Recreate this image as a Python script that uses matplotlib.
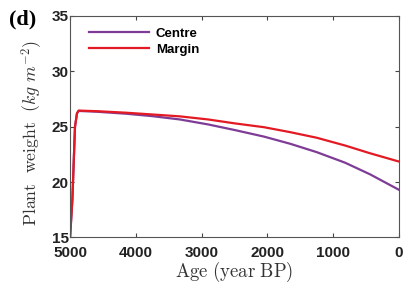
import numpy as np
import matplotlib.pyplot as plt

plt.rcParams['mathtext.fontset'] = 'cm'

age = [5000, 4965, 4925, 4895, 4870, 4600, 4150, 3750, 3330, 2900, 2500, 2050, 1650, 1250, 820, 440, 0]
centre = [15, 18.4, 25, 26.2, 26.42, 26.35, 26.17, 25.95, 25.65, 25.2, 24.7, 24.1, 23.45, 22.7, 21.75, 20.7, 19.3]
margin = [15, 18.4, 25, 26.2, 26.45, 26.4, 26.26, 26.1, 25.93, 25.65, 25.3, 24.95, 24.5, 24.0, 23.3, 22.6, 21.85]

fig = plt.figure(figsize=(4.05, 2.84), dpi=100)
ax = fig.add_axes([0.173, 0.164, 0.812, 0.78])

ax.plot(age, centre, color='#7E3C96', lw=1.6, label='Centre')
ax.plot(age, margin, color='#E31A23', lw=1.6, label='Margin')

ax.set_xlim(5000, 0)
ax.set_ylim(15, 35)
ax.set_xticks([5000, 4000, 3000, 2000, 1000, 0])
ax.set_yticks([15, 20, 25, 30, 35])
ax.tick_params(direction='in', top=True, right=True, length=3, width=0.8,
               labelsize=11, colors='#444444')
ax.tick_params(axis='x', pad=6)
ax.tick_params(axis='y', pad=1)
for lab in ax.get_xticklabels() + ax.get_yticklabels():
    lab.set_fontweight('bold')
    lab.set_family('Liberation Sans')
    lab.set_color('#222222')
for s in ax.spines.values():
    s.set_color('#555555')
    s.set_linewidth(0.8)

ax.set_xlabel(r'$\mathrm{Age\ (year\ BP)}$', fontsize=13.5, labelpad=0, color='#333333')
ax.set_ylabel(r'$\mathrm{Plant\ \ weight}\ \ (kg\ m^{-2})$', fontsize=12.8, color='#333333')
ax.yaxis.set_label_coords(-0.075, 0.47)

leg = ax.legend(loc='upper left', bbox_to_anchor=(0.02, 1.0), frameon=False,
                handlelength=4.6, handletextpad=0.5, labelspacing=0.25,
                prop={'family': 'Liberation Sans', 'weight': 'bold', 'size': 9.5})

fig.text(0.022, 0.915, '(d)', family='Liberation Serif', fontweight='bold', fontsize=16)

fig.savefig('out.png', dpi=100)
